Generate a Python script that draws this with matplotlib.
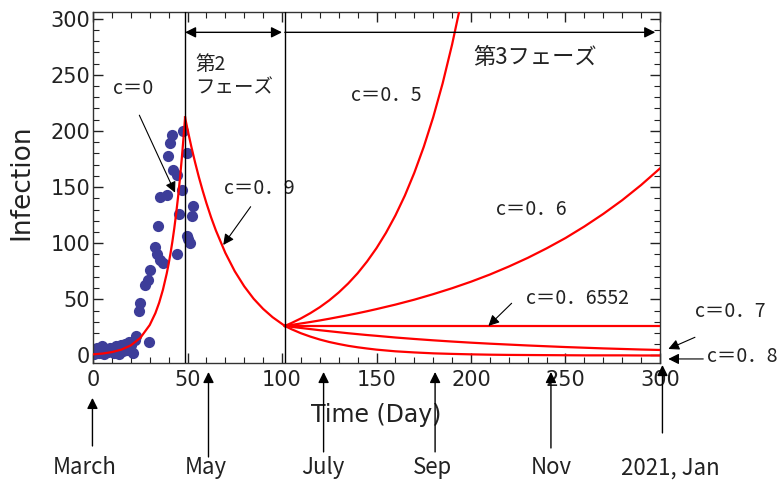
import matplotlib
matplotlib.use("Agg")
import matplotlib.pyplot as plt
from matplotlib.ticker import MultipleLocator

obs_day = [0.5, 1.5, 2, 3, 4.5, 5, 6, 7, 8, 9, 10, 11, 12, 13, 14, 15, 16, 17, 18,
           19, 20, 21, 22, 23, 24.5, 25, 27.5, 29, 29.8, 30.2, 32.8, 33.7, 34.6,
           35.4, 35.4, 37.2, 39, 39.9, 40.7, 42, 42.5, 44.3, 44.6, 45.7, 46.9,
           47.4, 49.6, 49.6, 50.3, 51.3, 52.2, 53.1]
obs_inf = [1, 4, 7, 2, 8, 4, 1, 6, 3, 7, 5, 2, 8, 6, 1, 9, 4, 10, 5,
           12, 9, 2, 14, 17, 40, 47, 63, 67, 12, 76, 97, 90, 115,
           85, 141, 82, 143, 178, 189, 196, 165, 90, 161, 126, 147,
           200, 180, 106, 104, 100, 124, 133]

# phase 1 (c=0) and phase 2 (c=0.9) model curves
t_rise = [0, 5, 10, 15, 20, 25, 30, 33, 35, 37, 39, 40, 41, 42, 43, 44, 45, 46, 47, 48, 48.7]
i_rise = [1.0, 1.7, 3.0, 5.2, 9.0, 15.6, 27.1, 37.7, 47.0, 58.6, 73.0, 81.5, 90.9, 101.5,
          113.3, 126.5, 141.2, 157.6, 175.9, 196.4, 212.0]
t_fall = [48.7, 50, 52, 54, 56, 58, 60, 62.5, 65, 70, 75, 80, 85, 90, 95, 101.5]
i_fall = [212.0, 201.4, 186.1, 172.0, 158.9, 146.9, 135.7, 122.9, 111.4, 91.4, 75.0,
          61.6, 50.5, 41.5, 34.1, 26.3]

# phase 3 curves
t_c05 = [101.5, 105, 110, 115, 120, 125, 130, 135, 140, 145, 150, 155, 160, 165, 170,
         175, 180, 185, 190, 195, 200]
i_c05 = [26.3, 28.9, 33.0, 37.7, 43.0, 49.1, 56.1, 64.1, 73.2, 83.7, 95.6, 109.2, 124.7,
         142.4, 162.7, 185.8, 212.2, 242.4, 277.0, 316.2, 361.0]
t_p3 = [101.5, 105, 110, 115, 120, 125, 130, 135, 140, 145, 150, 160, 170, 180, 190,
        200, 210, 220, 230, 240, 250, 260, 270, 280, 290, 300]
i_c06 = [26.3, 27.2, 28.5, 29.8, 31.2, 32.7, 34.3, 35.9, 37.6, 39.4, 41.3, 45.3, 49.7,
         54.6, 59.9, 65.7, 72.1, 79.2, 86.9, 95.4, 104.6, 114.9, 126.1, 138.3, 151.8, 166.6]
i_c07 = [26.3, 25.5, 24.5, 23.5, 22.5, 21.6, 20.7, 19.8, 19.0, 18.2, 17.5, 16.0, 14.7,
         13.5, 12.4, 11.4, 10.5, 9.7, 8.9, 8.2, 7.5, 6.9, 6.3, 5.8, 5.3, 4.9]
i_c08 = [26.3, 23.4, 19.8, 16.8, 14.2, 12.0, 10.2, 8.6, 7.3, 6.2, 5.2, 3.7, 2.7,
         1.9, 1.4, 1.0, 0.7, 0.5, 0.4, 0.3, 0.2, 0.1, 0.1, 0.1, 0.0, 0.0]
t_flat = [101.5, 300]
i_flat = [26.3, 26.3]

# phase boundaries (day)
phase_days = [48.7, 101.5]

months = ["March", "May", "July", "Sep", "Nov", "2021, Jan"]
month_day = [-0.3, 61.1, 122.0, 181.0, 242.3, 301.3]

JP = ["Noto Sans CJK JP", "DejaVu Sans"]
RED = "#ff0000"
DOT = "#3d3d99"

plt.rcParams["font.family"] = ["DejaVu Sans"]

fig = plt.figure(figsize=(7.83, 4.86), dpi=100)
ax = fig.add_axes([0.1188, 0.2531, 0.7241, 0.7222])

ax.scatter(obs_day, obs_inf, s=65, color=DOT, zorder=2, linewidths=0)

for t, v in [(t_rise, i_rise), (t_fall, i_fall), (t_c05, i_c05), (t_p3, i_c06),
             (t_flat, i_flat), (t_p3, i_c07), (t_p3, i_c08)]:
    ax.plot(t, v, color=RED, lw=1.6, zorder=3)

for d in phase_days:
    ax.axvline(d, color="black", lw=1.0, zorder=4)

ax.set_xlim(0, 300)
ax.set_ylim(-6.7, 305.9)
ax.xaxis.set_major_locator(MultipleLocator(50))
ax.xaxis.set_minor_locator(MultipleLocator(10))
ax.yaxis.set_major_locator(MultipleLocator(50))
ax.yaxis.set_minor_locator(MultipleLocator(10))
ax.tick_params(which="both", direction="in", top=True, right=True,
               labelsize=15, colors="#222222")
ax.tick_params(which="major", length=7, width=1.0)
ax.tick_params(which="minor", length=4, width=0.8)
ax.tick_params(axis="x", pad=5)
ax.tick_params(axis="y", pad=2)
for sp in ax.spines.values():
    sp.set_color("#333333")
    sp.set_linewidth(1.0)

ax.set_xlabel("Time (Day)", fontsize=17, color="#222222")
ax.xaxis.set_label_coords(0.5, -0.148)
ax.xaxis.label.set_va("center")
ax.set_ylabel("Infection", fontsize=19, color="#222222")
ax.yaxis.set_label_coords(-0.127, 0.516)
ax.yaxis.label.set_va("center")

# phase arrows
ax.annotate("", xy=(phase_days[0], 287.8), xytext=(100.0, 287.8),
            arrowprops=dict(arrowstyle="<|-|>", color="black", lw=1.0,
                            mutation_scale=16, shrinkA=0, shrinkB=0))
ax.annotate("", xy=(297.5, 287.8), xytext=(phase_days[1], 287.8),
            arrowprops=dict(arrowstyle="-|>", color="black", lw=1.0,
                            mutation_scale=16, shrinkA=0, shrinkB=0))
ax.text(54, 268.5, "第2\nフェーズ", family=JP, fontsize=14, ha="left", va="top",
        linespacing=1.15, color="#222222")
ax.text(233.9, 265.8, "第3フェーズ", family=JP, fontsize=16, ha="center", va="center",
        color="#222222")

# c labels and pointer arrows
labels = [
    ("c＝0", (21.3, 237.9), None, None),
    ("c＝0．9", (87.8, 149.0), (83.4, 132.5), (68.9, 98.4)),
    ("c＝0．5", (154.9, 231.3), None, None),
    ("c＝0．6", (232.1, 130.2), None, None),
    ("c＝0．6552", (256.3, 50.3), (221.5, 46.5), (209.2, 26.3)),
    ("c＝0．7", (337.0, 39.6), (318.5, 16.2), (304.4, 5.8)),
    ("c＝0．8", (343.3, -0.5), (322.9, -3.1), (304.4, -3.1)),
]
for txt, pos, tail, tip in labels:
    ax.text(pos[0], pos[1], txt, family=JP, fontsize=14, ha="center", va="center",
            color="#222222", clip_on=False)
    if tail is not None:
        ax.annotate("", xy=tip, xytext=tail, annotation_clip=False,
                    arrowprops=dict(arrowstyle="-|>", color="black", lw=0.8,
                                    mutation_scale=16, shrinkA=0, shrinkB=0))
ax.annotate("", xy=(43.4, 145.0), xytext=(24.5, 214.0),
            arrowprops=dict(arrowstyle="-|>", color="black", lw=0.8,
                            mutation_scale=16, shrinkA=0, shrinkB=0))

# month markers below the axis
tips = [-37.8, -14.7, -14.7, -14.7, -14.7, -8.5]
tails = [-80.6, -90.4, -85.9, -85.9, -82.4, -69.0]
label_x = [-4.2, 59.8, 121.7, 179.4, 242.3, 305.3]
for m, d, tp, tl, lx in zip(months, month_day, tips, tails, label_x):
    ax.annotate("", xy=(d, tp), xytext=(d, tl), annotation_clip=False,
                arrowprops=dict(arrowstyle="-|>", color="black", lw=1.0,
                                mutation_scale=16, shrinkA=0, shrinkB=0))
    ax.text(lx, -100.2, m, family=JP, fontsize=16, ha="center", va="center",
            color="#222222", clip_on=False)

fig.savefig("out.png", dpi=100, facecolor="white")
